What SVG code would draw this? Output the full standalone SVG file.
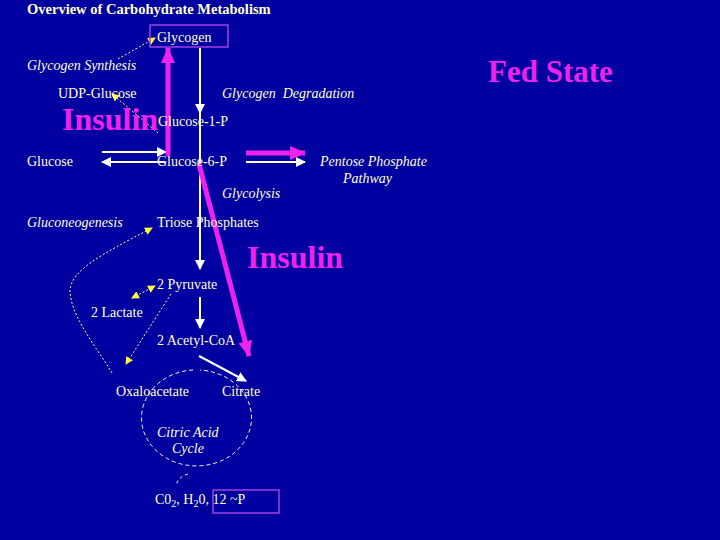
<svg xmlns="http://www.w3.org/2000/svg" width="720" height="540" viewBox="0 0 720 540">
<defs>
<style>
.t{font-family:"Liberation Serif","Times New Roman",serif;font-size:14px;fill:#FFFFCC}
.i{font-style:italic}
.b{font-weight:bold}
.ins{font-family:"Liberation Serif","Times New Roman",serif;font-weight:bold;fill:#EE22EE}
.w{stroke:#FFFFFF;stroke-width:2;fill:none}
.m{stroke:#EE22EE;stroke-width:5;fill:none}
.y{stroke:#FFFF99;stroke-width:1;stroke-dasharray:2 2;fill:none}
.box{fill:none;stroke:#A040E0;stroke-width:1.5}
</style>
<marker id="aw" markerUnits="userSpaceOnUse" markerWidth="10" markerHeight="10" refX="9" refY="5" orient="auto"><path d="M0,0 L10,5 L0,10 z" fill="#FFFFFF"/></marker>
<marker id="am" markerUnits="userSpaceOnUse" markerWidth="16" markerHeight="14" refX="15" refY="7" orient="auto"><path d="M0,0 L16,7 L0,14 z" fill="#EE22EE"/></marker>
<marker id="ay" markerUnits="userSpaceOnUse" markerWidth="8" markerHeight="8" refX="7" refY="4" orient="auto"><path d="M0,0 L8,4 L0,8 z" fill="#FFFF33"/></marker>
<marker id="ays" markerUnits="userSpaceOnUse" markerWidth="8" markerHeight="8" refX="1" refY="4" orient="auto"><path d="M8,0 L0,4 L8,8 z" fill="#FFFF33"/></marker>
</defs>
<rect width="720" height="540" fill="#0000A0"/>
<text class="t b" x="27" y="14" font-size="14.5" style="font-size:14.5px">Overview of Carbohydrate Metabolism</text>
<g id="connectors">
<path class="w" d="M200,48 V113" marker-end="url(#aw)"/>
<path class="w" d="M200,112 V166"/>
<path class="w" d="M200,166 V269" marker-end="url(#aw)"/>
<path class="w" d="M200,297 V328" marker-end="url(#aw)"/>
<path class="w" d="M102,152 H166" marker-end="url(#aw)"/>
<path class="w" d="M165,162 H102" marker-end="url(#aw)"/>
<path class="w" d="M246,162 H305" marker-end="url(#aw)"/>
<path class="w" d="M199,356 L246,381" marker-end="url(#aw)"/>
<path class="m" d="M168,156 V48" marker-end="url(#am)"/>
<path class="m" d="M246,153 H305" marker-end="url(#am)"/>
<path class="m" d="M199,164 L249,356" marker-end="url(#am)"/>
<path class="y" d="M118,59 L155,38" marker-end="url(#ay)"/>
<path class="y" d="M158,133 L112,94" marker-end="url(#ay)"/>
<path class="y" d="M112,373 C95,345 70,315 70,290 C72,270 100,255 152,228" marker-end="url(#ay)"/>
<path class="y" d="M155,286 L132,298" marker-end="url(#ay)" marker-start="url(#ays)"/>
<path class="y" d="M171,294 L126,364" marker-end="url(#ay)"/>
<path d="M193,370 A55,48 0 1 0 200,370" fill="none" stroke="#FFFFCC" stroke-width="1" stroke-dasharray="4 3"/>
<path d="M188,474 Q178,477 176,486" fill="none" stroke="#FFFFCC" stroke-width="1" stroke-dasharray="3 3"/>
</g>
<g id="glycogen"><rect class="box" x="150" y="25" width="78" height="22"/><text class="t" x="157" y="42">Glycogen</text></g>
<g id="glycogen-synthesis"><text class="t i" x="27" y="70">Glycogen Synthesis</text></g>
<g id="udp-glucose"><text class="t" x="58" y="98">UDP-Glucose</text></g>
<g id="glycogen-degradation"><text class="t i" x="222" y="98" xml:space="preserve">Glycogen  Degradation</text></g>
<g id="insulin1"><text class="ins" x="62" y="130" font-size="32">Insulin</text></g>
<g id="glucose-1-p"><text class="t" x="158" y="126">Glucose-1-P</text></g>
<g id="glucose"><text class="t" x="27" y="166">Glucose</text></g>
<g id="glucose-6-p"><text class="t" x="157" y="166">Glucose-6-P</text></g>
<g id="pentose"><text class="t i" x="320" y="166">Pentose Phosphate</text><text class="t i" x="343" y="183">Pathway</text></g>
<g id="glycolysis"><text class="t i" x="222" y="198">Glycolysis</text></g>
<g id="gluconeogenesis"><text class="t i" x="27" y="227">Gluconeogenesis</text></g>
<g id="triose"><text class="t" x="157" y="227">Triose Phosphates</text></g>
<g id="insulin2"><text class="ins" x="247" y="268" font-size="32">Insulin</text></g>
<g id="pyruvate"><text class="t" x="157" y="289">2 Pyruvate</text></g>
<g id="lactate"><text class="t" x="91" y="317">2 Lactate</text></g>
<g id="acetyl-coa"><text class="t" x="157" y="345">2 Acetyl-CoA</text></g>
<g id="oxaloacetate"><text class="t" x="116" y="396">Oxaloacetate</text></g>
<g id="citrate"><text class="t" x="222" y="396">Citrate</text></g>
<g id="cycle"><text class="t i" x="157" y="437">Citric Acid</text><text class="t i" x="172" y="453">Cycle</text></g>
<g id="products"><rect class="box" x="213" y="490" width="66" height="23"/><text class="t" x="155" y="504">C0<tspan font-size="10" dy="3">2</tspan><tspan dy="-3">, H</tspan><tspan font-size="10" dy="3">2</tspan><tspan dy="-3">0, 12 ~P</tspan></text></g>
<g id="fed-state"><text class="ins" x="488" y="82" font-size="31">Fed State</text></g>
</svg>
